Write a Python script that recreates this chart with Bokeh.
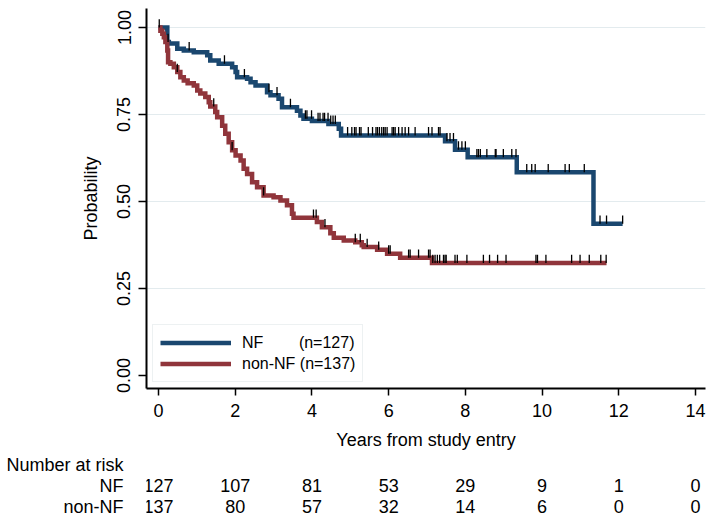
import numpy as np
from bokeh.plotting import figure
from bokeh.layouts import column
from bokeh.models import (Range1d, FixedTicker, NumeralTickFormatter, Legend,
                          LegendItem)
from bokeh.core.properties import value
from bokeh.embed import file_html
from bokeh.resources import INLINE

# ---------------- data ----------------
nf_time = [0, 0.23, 0.27, 0.49, 0.66, 0.92, 1.27, 1.35, 1.57, 1.92, 2.01, 2.05,
           2.31, 2.40, 2.53, 2.83, 2.92, 3.13, 3.22, 3.61, 3.70, 3.78, 4.00,
           4.43, 4.70, 4.76, 7.47, 7.73, 8.06, 9.34, 11.34]
nf_surv = [1.0, 0.958, 0.954, 0.939, 0.934, 0.929, 0.920, 0.905, 0.896, 0.886,
           0.872, 0.857, 0.853, 0.843, 0.833, 0.814, 0.805, 0.795, 0.771, 0.761,
           0.747, 0.738, 0.731, 0.723, 0.709, 0.690, 0.673, 0.649, 0.627, 0.584,
           0.436]
nf_end = 12.10
nf_censor = [0.02, 0.25, 0.80, 1.72, 2.24, 2.88, 3.09, 3.44, 3.83, 3.87, 3.99,
             4.16, 4.21, 4.29, 4.33, 4.42, 4.49, 4.55, 4.61, 4.93, 5.04, 5.11,
             5.15, 5.24, 5.28, 5.47, 5.58, 5.67, 5.71, 5.76, 5.82, 5.87, 5.91,
             5.96, 6.09, 6.13, 6.17, 6.26, 6.35, 6.43, 6.52, 6.69, 7.04, 7.13,
             7.30, 7.34, 7.52, 7.60, 7.69, 7.82, 7.91, 8.00, 8.30, 8.34, 8.39,
             8.56, 8.78, 8.80, 8.99, 9.21, 9.32, 9.60, 9.73, 9.82, 10.16, 10.60,
             10.71, 11.10, 11.51, 11.68, 12.10]

non_time = [0, 0.05, 0.10, 0.14, 0.18, 0.23, 0.25, 0.31, 0.40, 0.49, 0.57, 0.66,
            0.76, 0.92, 1.01, 1.09, 1.22, 1.31, 1.35, 1.48, 1.53, 1.66, 1.74,
            1.83, 1.92, 2.01, 2.14, 2.22, 2.31, 2.44, 2.57, 2.74, 3.00, 3.18,
            3.35, 3.48, 3.52, 4.13, 4.26, 4.48, 4.57, 4.83, 5.13, 5.30, 5.35,
            5.70, 5.96, 6.30, 7.13]
non_surv = [1.0, 0.991, 0.982, 0.972, 0.958, 0.934, 0.900, 0.896, 0.886, 0.872,
            0.857, 0.848, 0.840, 0.833, 0.819, 0.810, 0.800, 0.785, 0.773, 0.757,
            0.742, 0.718, 0.695, 0.670, 0.647, 0.632, 0.618, 0.594, 0.579, 0.555,
            0.541, 0.517, 0.512, 0.503, 0.489, 0.465, 0.453, 0.441, 0.426, 0.409,
            0.396, 0.388, 0.383, 0.374, 0.369, 0.361, 0.350, 0.338, 0.323]
non_end = 11.68
non_censor = [0.49, 1.44, 1.92, 2.74, 4.04, 4.11, 4.34, 5.13, 5.26, 5.44, 5.74,
              6.00, 6.04, 6.52, 6.56, 6.78, 7.04, 7.08, 7.15, 7.21, 7.27, 7.33,
              7.43, 7.47, 7.50, 7.73, 7.79, 8.04, 8.47, 8.63, 8.84, 9.06, 9.84,
              9.88, 10.10, 10.77, 10.99, 11.23, 11.53, 11.67]

legend_labels = ["NF" + "\u00a0" * 8 + "(n=127)", "non-NF (n=137)"]
risk_title = "Number at risk"
risk_rows = ["NF", "non-NF"]
risk_times = [0, 2, 4, 6, 8, 10, 12, 14]
risk_nf = [127, 107, 81, 53, 29, 9, 1, 0]
risk_non = [137, 80, 57, 32, 14, 6, 0, 0]
x_ticks = [0, 2, 4, 6, 8, 10, 12, 14]
y_ticks = [0.0, 0.25, 0.5, 0.75, 1.0]

# ---------------- style / layout ----------------
FONT = "Liberation Sans"
NAVY = "#1a476f"
MAROON = "#90353b"
X_START, X_END = -0.3125, 14.26
Y_START, Y_END = -0.0374, 1.0546
W = 714
LEFT, RIGHT, TOP = 146, 9, 8
FRAME_H = 380
MAIN_H = 452
RISK_H = 70
ROW_FIRST_PX = 12     # first table row centre, px below top of table panel
ROW_STEP_PX = 21      # px between table rows
TICK = 0.024

p = figure(width=W, height=MAIN_H, x_range=Range1d(X_START, X_END),
           y_range=Range1d(Y_START, Y_END), output_backend="svg",
           toolbar_location=None, min_border_left=LEFT, min_border_right=RIGHT,
           min_border_top=TOP, min_border_bottom=MAIN_H - TOP - FRAME_H)
p.outline_line_color = None
p.background_fill_color = "white"
p.border_fill_color = "white"
p.xgrid.visible = False
p.ygrid.ticker = FixedTicker(ticks=[t for t in y_ticks if t > 0])
p.ygrid.grid_line_color = "#e3ebee"
p.ygrid.grid_line_width = 1


def km_path(times, surv, end):
    return list(times) + [end], list(surv) + [surv[-1]]


def censor_marks(times, surv, cens):
    idx = np.searchsorted(np.array(times), np.array(cens), side="right") - 1
    lv = np.array(surv)[idx]
    return np.array(cens), lv


x1, y1 = km_path(nf_time, nf_surv, nf_end)
x2, y2 = km_path(non_time, non_surv, non_end)
r_nf = p.step(x1, y1, mode="after", line_color=NAVY, line_width=4.5,
              line_join="miter")
r_non = p.step(x2, y2, mode="after", line_color=MAROON, line_width=4.5,
               line_join="miter")
for times, surv, cens in [(nf_time, nf_surv, nf_censor),
                          (non_time, non_surv, non_censor)]:
    cx, cy = censor_marks(times, surv, cens)
    p.segment(x0=cx, y0=cy, x1=cx, y1=cy + TICK, line_color="black",
              line_width=1.3)

legend = Legend(items=[LegendItem(label=legend_labels[0], renderers=[r_nf]),
                       LegendItem(label=legend_labels[1], renderers=[r_non])],
                location="bottom_left", margin=6, padding=7, spacing=0,
                glyph_width=71, glyph_height=21, label_height=21,
                label_standoff=11, label_text_font=FONT,
                label_text_font_size="16px", label_text_color="black",
                border_line_color="#dbe3e6", border_line_width=1,
                background_fill_color="white", background_fill_alpha=1.0)
p.add_layout(legend)

for ax in (p.xaxis[0], p.yaxis[0]):
    ax.axis_line_width = 2
    ax.axis_line_color = "black"
    ax.major_tick_line_color = "black"
    ax.major_tick_line_width = 1.5
    ax.major_tick_in = 0
    ax.minor_tick_line_color = None
    ax.major_label_text_font = FONT
    ax.major_label_text_font_size = "18px"
    ax.major_label_text_color = "black"
    ax.axis_label_text_font = FONT
    ax.axis_label_text_font_size = "18px"
    ax.axis_label_text_font_style = "normal"
    ax.axis_label_text_color = "black"

p.xaxis.ticker = FixedTicker(ticks=x_ticks)
p.xaxis.major_tick_out = 7
p.xaxis.major_label_standoff = 8
p.xaxis.axis_label = "Years from study entry"
p.xaxis.axis_label_standoff = 10

p.yaxis.ticker = FixedTicker(ticks=y_ticks)
p.yaxis.formatter = NumeralTickFormatter(format="0.00")
p.yaxis.major_label_orientation = "vertical"
p.yaxis.major_tick_out = 8
p.yaxis.major_label_standoff = 8
p.yaxis.axis_label = "Probability"
p.yaxis.axis_label_standoff = 14

# ---------------- risk table (second figure, same x scale) ----------------
ry_top = -ROW_FIRST_PX / ROW_STEP_PX
ry_bottom = (RISK_H - ROW_FIRST_PX) / ROW_STEP_PX
r = figure(width=W, height=RISK_H, x_range=p.x_range,
           y_range=Range1d(ry_bottom, ry_top), output_backend="svg",
           toolbar_location=None, x_axis_location=None,
           min_border_left=LEFT, min_border_right=RIGHT, min_border_top=0,
           min_border_bottom=0)
r.outline_line_color = None
r.grid.visible = False
r.background_fill_color = "white"
r.border_fill_color = "white"
ry = r.yaxis[0]
ry.ticker = FixedTicker(ticks=[0, 1, 2])
ry.major_label_overrides = {0: risk_title, 1: risk_rows[0], 2: risk_rows[1]}
ry.axis_line_color = None
ry.major_tick_line_color = None
ry.minor_tick_line_color = None
ry.major_label_standoff = 17
ry.major_label_text_font = FONT
ry.major_label_text_font_size = "18px"
ry.major_label_text_color = "black"

txt = dict(text_font=value(FONT), text_font_size="18px", text_color="black",
           text_baseline="middle", text_align="center")
r.text(x=risk_times, y=[1] * len(risk_times), text=[str(v) for v in risk_nf],
       **txt)
r.text(x=risk_times, y=[2] * len(risk_times), text=[str(v) for v in risk_non],
       **txt)

layout = column(p, r, spacing=0)
open("out.html", "w").write(file_html(layout, INLINE))
